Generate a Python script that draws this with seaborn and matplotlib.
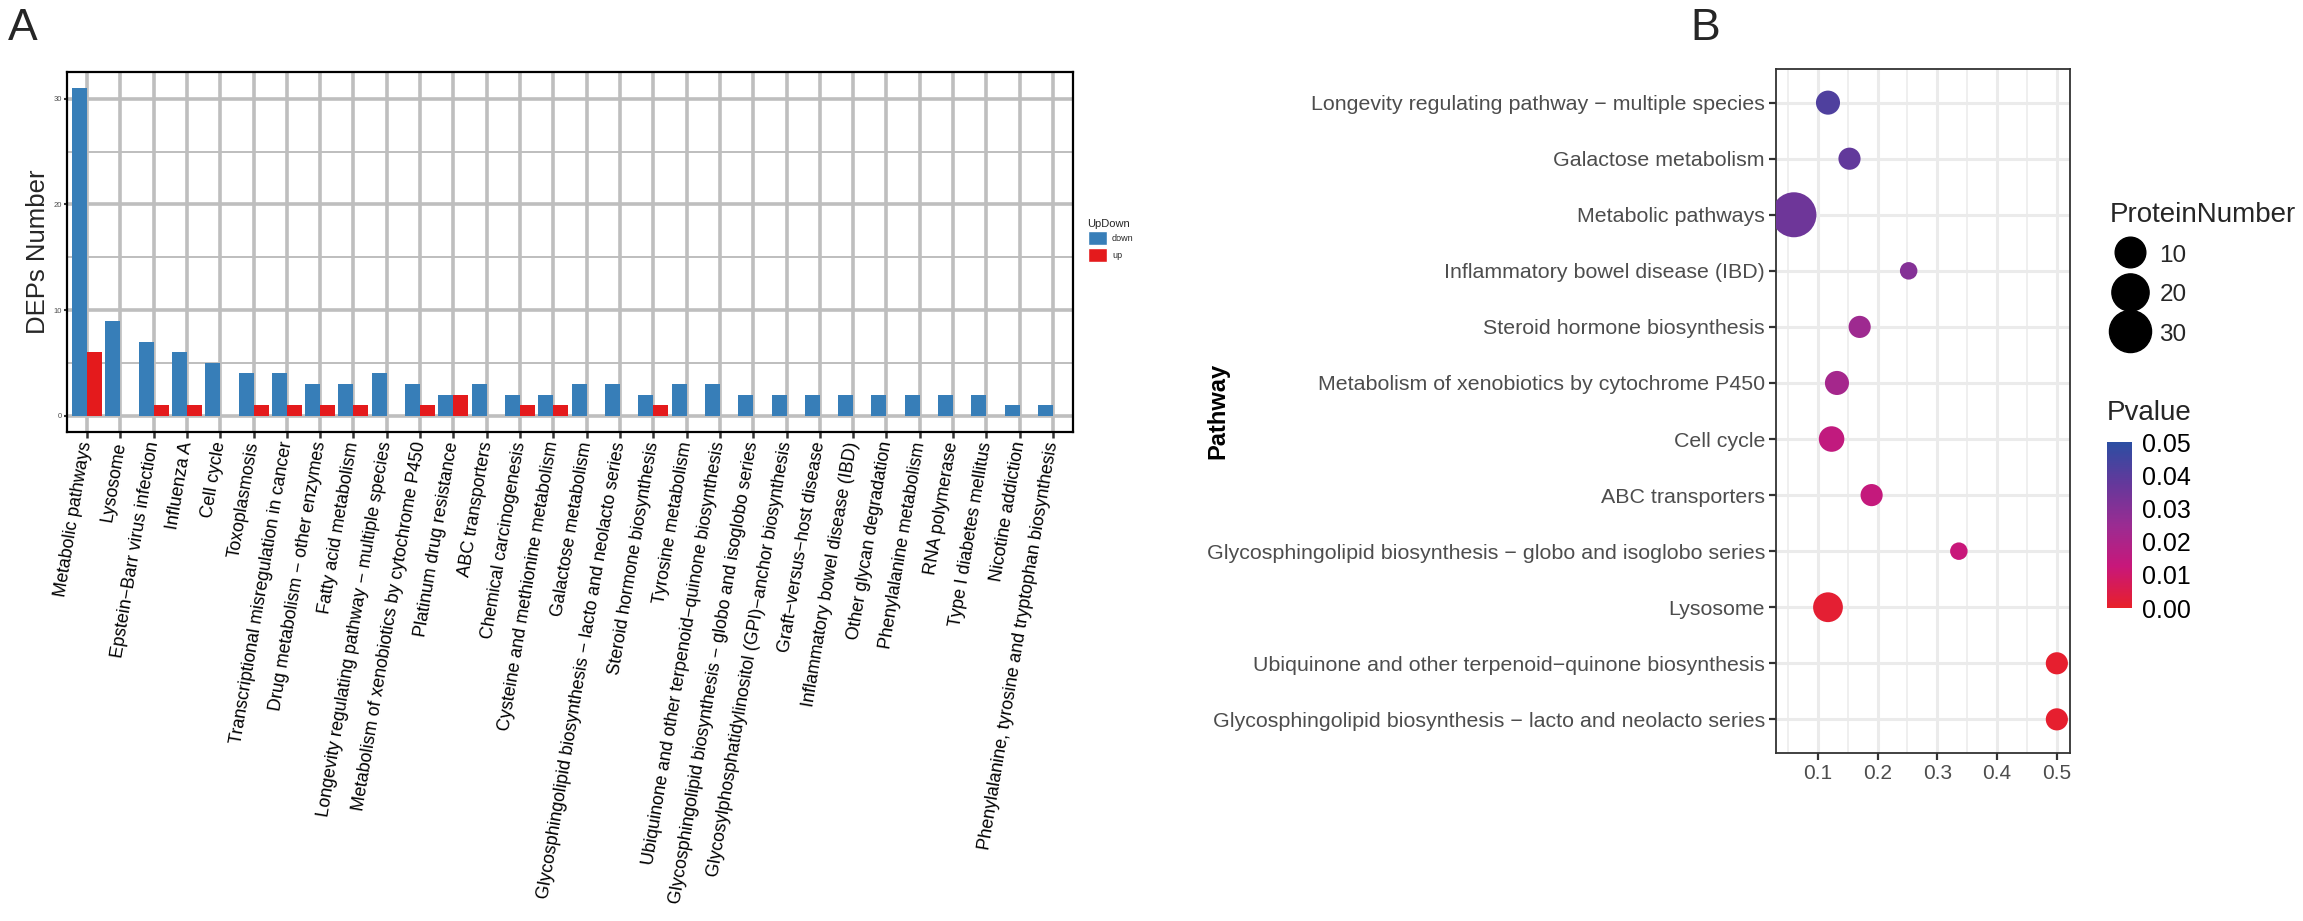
import numpy as np
import pandas as pd
import matplotlib.pyplot as plt
import seaborn as sns
from matplotlib.colors import LinearSegmentedColormap, Normalize
from matplotlib.lines import Line2D
from matplotlib.patches import Patch
import matplotlib.cm as cm

# ---- panel A data
pathways_a = ["Metabolic pathways", "Lysosome", "Epstein−Barr virus infection", "Influenza A",
              "Cell cycle", "Toxoplasmosis", "Transcriptional misregulation in cancer",
              "Drug metabolism − other enzymes", "Fatty acid metabolism",
              "Longevity regulating pathway − multiple species",
              "Metabolism of xenobiotics by cytochrome P450", "Platinum drug resistance",
              "ABC transporters", "Chemical carcinogenesis", "Cysteine and methionine metabolism",
              "Galactose metabolism", "Glycosphingolipid biosynthesis − lacto and neolacto series",
              "Steroid hormone biosynthesis", "Tyrosine metabolism",
              "Ubiquinone and other terpenoid−quinone biosynthesis",
              "Glycosphingolipid biosynthesis − globo and isoglobo series",
              "Glycosylphosphatidylinositol (GPI)−anchor biosynthesis", "Graft−versus−host disease",
              "Inflammatory bowel disease (IBD)", "Other glycan degradation", "Phenylalanine metabolism",
              "RNA polymerase", "Type I diabetes mellitus", "Nicotine addiction",
              "Phenylalanine, tyrosine and tryptophan biosynthesis"]
down_counts = [31, 9, 7, 6, 5, 4, 4, 3, 3, 4, 3, 2, 3, 2, 2, 3, 3, 2, 3, 3, 2, 2, 2, 2, 2, 2, 2, 2, 1, 1]
up_counts = [6, 0, 1, 1, 0, 1, 1, 1, 1, 0, 1, 2, 0, 1, 1, 0, 0, 1, 0, 0, 0, 0, 0, 0, 0, 0, 0, 0, 0, 0]

# ---- panel B data (top to bottom)
pathways_b = ["Longevity regulating pathway − multiple species", "Galactose metabolism",
              "Metabolic pathways", "Inflammatory bowel disease (IBD)", "Steroid hormone biosynthesis",
              "Metabolism of xenobiotics by cytochrome P450", "Cell cycle", "ABC transporters",
              "Glycosphingolipid biosynthesis − globo and isoglobo series", "Lysosome",
              "Ubiquinone and other terpenoid−quinone biosynthesis",
              "Glycosphingolipid biosynthesis − lacto and neolacto series"]
gene_ratio = [0.117, 0.153, 0.060, 0.252, 0.170, 0.132, 0.123, 0.190, 0.336, 0.117, 0.5, 0.5]
protein_number = [4, 3, 37, 2, 3, 4, 5, 3, 2, 9, 3, 3]
pvalue = [0.042, 0.038, 0.035, 0.030, 0.024, 0.022, 0.0145, 0.0135, 0.0125, 0.0015, 0.0009, 0.0008]
size_breaks = [10, 20, 30]

W, H = 2303, 921
sns.set_theme(style="white")
plt.rcParams["font.family"] = ["Liberation Sans", "DejaVu Sans"]

fig = plt.figure(figsize=(W / 100, H / 100), dpi=100)

# ================= panel A
dfA = pd.DataFrame({"Pathway": pathways_a * 2,
                    "UpDown": ["down"] * len(pathways_a) + ["up"] * len(pathways_a),
                    "Number": down_counts + up_counts})
colA = {"down": "#377EB8", "up": "#E41A1C"}

axA = fig.add_axes([67 / W, 1 - 432 / H, 1006 / W, 360 / H])
axA.set_axisbelow(True)
sns.barplot(data=dfA, x="Pathway", y="Number", hue="UpDown", palette=colA, width=0.9,
            saturation=1, linewidth=0, legend=False, ax=axA)
axA.set_xlim(-0.6, len(pathways_a) - 0.4)
axA.set_ylim(-1.55, 32.55)
axA.set_yticks([0, 10, 20, 30])
axA.set_yticks([5, 15, 25], minor=True)
axA.grid(True, which="major", color="#BEBEBE", linewidth=2.6)
axA.grid(True, which="minor", axis="y", color="#BEBEBE", linewidth=1.4)
for s in axA.spines.values():
    s.set_color("black")
    s.set_linewidth(1.6)
axA.tick_params(axis="y", which="major", labelsize=5.5, labelcolor="#4D4D4D", length=2.5,
                width=1.5, color="#333333", left=True, pad=1)
axA.tick_params(axis="y", which="minor", length=0)
axA.tick_params(axis="x", length=4, width=1.8, color="#333333", bottom=True, pad=3)
axA.set_xticks(range(len(pathways_a)))
axA.set_xticklabels(pathways_a, rotation=80.5, ha="right", va="center", rotation_mode="anchor",
                    fontsize=12.9, color="black")
axA.set_xlabel("")
axA.set_ylabel("DEPs Number", fontsize=18.5, labelpad=3)

fig.legend(handles=[Patch(facecolor=colA["down"], label="down"), Patch(facecolor=colA["up"], label="up")],
           title="UpDown", loc="upper left", bbox_to_anchor=(1084 / W, 1 - 215 / H), frameon=False,
           fontsize=6.5, title_fontsize=8, handlelength=2.2, handleheight=2.0, labelspacing=0.3,
           handletextpad=0.5, alignment="left", borderaxespad=0)

fig.text(8 / W, 1 - 28 / H, "A", fontsize=32, va="center", ha="left")

# ================= panel B
dfB = pd.DataFrame({"Pathway": pathways_b, "GeneRatio": gene_ratio,
                    "ProteinNumber": protein_number, "Pvalue": pvalue})
p_cmap = LinearSegmentedColormap.from_list(
    "pv", [(0, "#E8202A"), (0.25, "#C8177A"), (0.5, "#9A2C92"), (0.75, "#64389B"), (1, "#2B4EA2")])
p_norm = Normalize(0, 0.05)


def diam_px(v):
    return 17.5 + 27.5 * np.sqrt((v - 2) / 35)


size_map = {v: (diam_px(v) * 0.72) ** 2 for v in sorted(set(protein_number + size_breaks))}

axB = fig.add_axes([1776 / W, 1 - 753 / H, 294 / W, 684 / H])
axB.set_axisbelow(True)
sns.scatterplot(data=dfB, x="GeneRatio", y="Pathway", size="ProteinNumber", sizes=size_map,
                hue="Pvalue", palette=p_cmap, hue_norm=p_norm, edgecolor="none", linewidth=0,
                legend=False, ax=axB, zorder=3)
axB.set_xlim(0.03, 0.522)
axB.set_ylim(len(pathways_b) - 0.4, -0.6)
axB.set_xticks([0.1, 0.2, 0.3, 0.4, 0.5])
axB.set_xticklabels(["0.1", "0.2", "0.3", "0.4", "0.5"])
axB.set_xticks([0.05, 0.15, 0.25, 0.35, 0.45], minor=True)
axB.grid(True, which="major", color="#EBEBEB", linewidth=2.2)
axB.grid(True, which="minor", axis="x", color="#EBEBEB", linewidth=1.1)
for s in axB.spines.values():
    s.set_color("#333333")
    s.set_linewidth(1.3)
axB.tick_params(axis="y", which="major", labelsize=15.4, labelcolor="#4D4D4D", length=5,
                width=1.6, color="#333333", left=True, pad=3)
axB.tick_params(axis="x", which="major", labelsize=15, labelcolor="#4D4D4D", length=5,
                width=1.6, color="#333333", bottom=True, pad=3)
axB.tick_params(axis="x", which="minor", length=0)
axB.set_xlabel("")
axB.set_ylabel("Pathway", fontsize=17, fontweight="bold", color="black")
axB.yaxis.set_label_coords((1229 - 1776) / 294, 0.5)

size_handles = [Line2D([], [], marker="o", linestyle="", markerfacecolor="black",
                       markeredgecolor="black", markersize=diam_px(v) * 0.72) for v in size_breaks]
fig.legend(handles=size_handles, labels=[str(v) for v in size_breaks], title="ProteinNumber",
           loc="upper left", bbox_to_anchor=(2100 / W, 1 - 192 / H), frameon=False, fontsize=17.5,
           title_fontsize=20, handlelength=1.7, handleheight=1.0, labelspacing=0.62,
           handletextpad=0.35, alignment="left", borderaxespad=0)

cax = fig.add_axes([2107 / W, 1 - 608 / H, 25 / W, 166 / H])
cb = fig.colorbar(cm.ScalarMappable(norm=p_norm, cmap=p_cmap), cax=cax,
                  ticks=[0, 0.01, 0.02, 0.03, 0.04, 0.05])
cb.ax.set_yticklabels(["0.00", "0.01", "0.02", "0.03", "0.04", "0.05"])
cb.outline.set_visible(False)
cax.tick_params(axis="y", direction="in", length=5, width=1.2, color="white", left=True,
                right=True, labelsize=18, labelcolor="black", pad=7)
fig.text(2107 / W, 1 - 413 / H, "Pvalue", fontsize=20, va="center", ha="left")

fig.text(1690 / W, 1 - 28 / H, "B", fontsize=32, va="center", ha="left")

fig.savefig("out.png", dpi=100)
